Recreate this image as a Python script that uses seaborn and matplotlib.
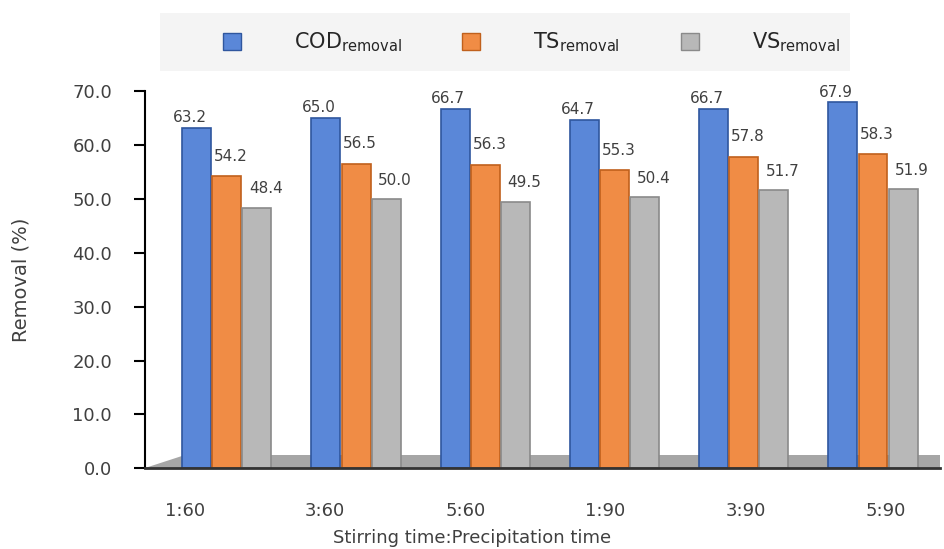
import pandas as pd
import numpy as np
import matplotlib
matplotlib.use("Agg")
import matplotlib.pyplot as plt
import matplotlib.transforms as mtransforms
import seaborn as sns
from matplotlib.patches import Polygon, Rectangle

# data
conditions = ["1:60", "3:60", "5:60", "1:90", "3:90", "5:90"]
cod_removal = [63.2, 65.0, 66.7, 64.7, 66.7, 67.9]
ts_removal = [54.2, 56.5, 56.3, 55.3, 57.8, 58.3]
vs_removal = [48.4, 50.0, 49.5, 50.4, 51.7, 51.9]

series_names = ["COD$_{\\mathrm{removal}}$", "TS$_{\\mathrm{removal}}$", "VS$_{\\mathrm{removal}}$"]
colors = ["#5a87d8", "#f08c45", "#b8b8b8"]
edges = ["#2f569e", "#c0601c", "#8a8a8a"]

df = pd.DataFrame({
    "condition": conditions * 3,
    "removal": cod_removal + ts_removal + vs_removal,
    "series": [series_names[0]] * 6 + [series_names[1]] * 6 + [series_names[2]] * 6,
})

sns.set_style("white")
plt.rcParams["font.family"] = ["DejaVu Sans"]

fig = plt.figure(figsize=(9.44, 5.49), dpi=100)
ax = fig.add_axes([0.154, 0.147, 0.842, 0.687])

# gray floor under the bars (3D look of the original)
floor = Polygon([[0.0, 0.0], [1.0, 0.0], [1.0, 0.035], [0.05, 0.035]],
                closed=True, transform=ax.transAxes, facecolor="#a6a6a6",
                edgecolor="none", zorder=0)
ax.add_patch(floor)

sns.barplot(data=df, x="condition", y="removal", hue="series",
            palette=colors, width=0.70, gap=0.04, ax=ax, legend=True,
            saturation=1.0)

# value labels, offset a bit like the 3D chart
label_offsets = [(-5, 2), (3, 9), (6.5, 8)]
for i, cont in enumerate(ax.containers):
    for b in cont:
        b.set_edgecolor(edges[i])
        b.set_linewidth(1.2)
        b.set_zorder(2)
        ax.annotate(f"{b.get_height():.1f}",
                    (b.get_x() + b.get_width() / 2, b.get_height()),
                    xytext=label_offsets[i], textcoords="offset points",
                    ha="center", va="bottom", fontsize=11, color="#404040")

ax.set_ylim(0, 70)
ax.set_xlim(-0.63, 5.52)
ax.set_yticks(np.arange(0, 71, 10))
ax.set_yticklabels([f"{v:.1f}" for v in np.arange(0, 71, 10)], fontsize=13, color="#404040")
ax.tick_params(axis="y", direction="out", length=8, width=1.5, color="black", left=True, pad=16)
ax.tick_params(axis="x", length=0, labelsize=13, labelcolor="#404040", pad=24)

# category labels sit left of the bars in the perspective view
for i, lbl in enumerate(ax.get_xticklabels()):
    shift = mtransforms.ScaledTranslation((-42 + 11 * i) / 100, 0, fig.dpi_scale_trans)
    lbl.set_transform(lbl.get_transform() + shift)

for s in ["top", "right"]:
    ax.spines[s].set_visible(False)
ax.spines["left"].set_linewidth(1.5)
ax.spines["left"].set_color("black")
ax.spines["bottom"].set_linewidth(2.0)
ax.spines["bottom"].set_color("#333333")

ax.set_ylabel("Removal (%)", fontsize=14, color="#404040", labelpad=30)
ax.set_xlabel("Stirring time:Precipitation time", fontsize=13, color="#404040")
ax.xaxis.set_label_coords(0.411, -0.162)

# legend on a light panel across the top
fig.add_artist(Rectangle((160 / 944, 1 - 71 / 549), 690 / 944, 58 / 549,
                         transform=fig.transFigure, facecolor="#f4f4f4",
                         edgecolor="none", zorder=0))
handles, labels = ax.get_legend_handles_labels()
ax.get_legend().remove()
for h, e in zip(handles, edges):
    h.set_edgecolor(e)
leg = fig.legend(handles, labels, loc="center", bbox_to_anchor=(0.563, 0.923),
                 ncol=3, frameon=False, fontsize=15, handlelength=0.87, handleheight=0.87,
                 columnspacing=2.9, handletextpad=2.55)

fig.savefig("out.png", dpi=100)
